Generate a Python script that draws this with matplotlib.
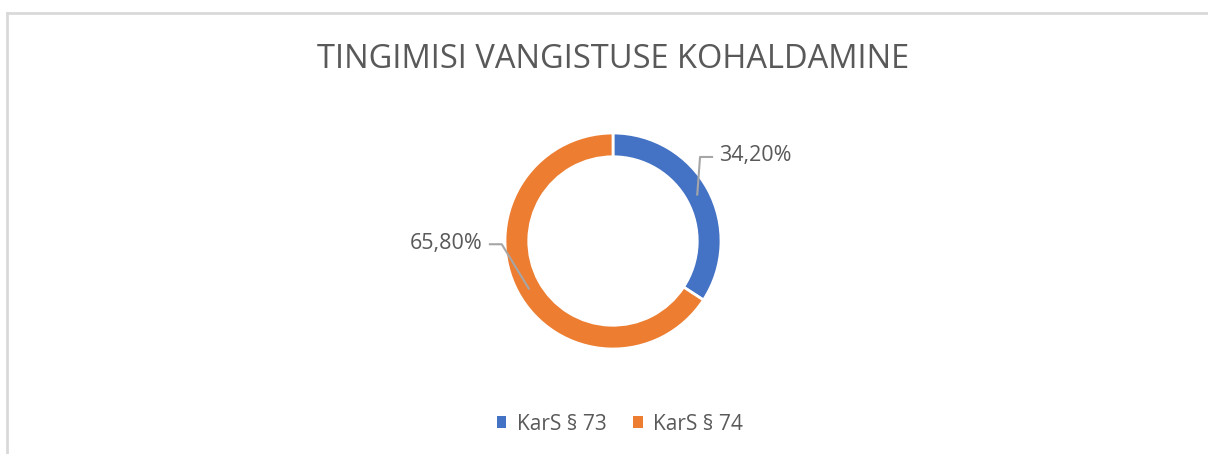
import matplotlib.pyplot as plt
from matplotlib.lines import Line2D
from matplotlib.patches import Patch

plt.rcParams['font.family'] = ['Open Sans', 'DejaVu Sans']

title = 'TINGIMISI VANGISTUSE KOHALDAMINE'
categories = ['KarS § 73', 'KarS § 74']
shares = [34.20, 65.80]
colors = ['#4472C4', '#ED7D31']

W, H = 1208, 454
fig = plt.figure(figsize=(W / 100, H / 100), dpi=100)

# chart frame (light grey, top + left visible)
fig.add_artist(Line2D([7 / W, 1], [1 - 13 / H, 1 - 13 / H], color='#d9d9d9', lw=2))
fig.add_artist(Line2D([7 / W, 7 / W], [0, 1 - 13 / H], color='#d9d9d9', lw=2))

# donut: centre (613, 241) px, radius 108 px
cx, cy, r = 613, 241, 108
ax = fig.add_axes([(cx - r) / W, (H - cy - r) / H, 2 * r / W, 2 * r / H])
wedges, _ = ax.pie(shares, colors=colors, startangle=90, counterclock=False,
                   radius=1.0, wedgeprops=dict(width=0.22, edgecolor='white', linewidth=2))
ax.set_xlim(-1, 1)
ax.set_ylim(-1, 1)
ax.axis('off')

lab = [f'{v:.2f}%'.replace('.', ',') for v in shares]
lc = '#a6a6a6'
# blue label
ax.plot([0.78, 0.806, 0.917], [0.43, 0.778, 0.778], color=lc, lw=1.5, clip_on=False)
ax.text(0.98, 0.79, lab[0], ha='left', va='center', fontsize=15.5, color='#595959')
# orange label
ax.plot([-0.78, -1.03, -1.14], [-0.44, -0.03, -0.03], color=lc, lw=1.5, clip_on=False)
ax.text(-1.21, -0.02, lab[1], ha='right', va='center', fontsize=15.5, color='#595959')

fig.text(613 / W, 1 - 60 / H, title, ha='center', va='center', fontsize=23.5, color='#595959')

handles = [Patch(facecolor=c, edgecolor='none') for c in colors]
fig.legend(handles, categories, loc='center', bbox_to_anchor=(620 / W, 1 - 424 / H),
           ncol=2, frameon=False, fontsize=15, labelcolor='#595959',
           handlelength=0.45, handleheight=0.45, handletextpad=0.5, columnspacing=1.3)

fig.savefig('out.png', dpi=100)
